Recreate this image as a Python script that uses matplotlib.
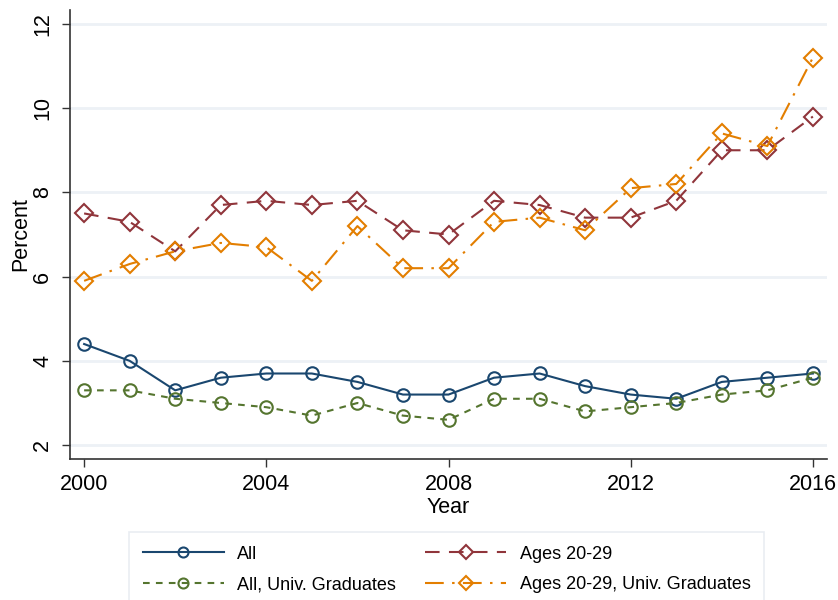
import numpy as np
import matplotlib
matplotlib.use("Agg")
import matplotlib.pyplot as plt

plt.rcParams['font.family'] = ['Liberation Sans', 'DejaVu Sans']

years = list(range(2000, 2017))
all_rate = [4.4, 4.0, 3.3, 3.6, 3.7, 3.7, 3.5, 3.2, 3.2, 3.6, 3.7, 3.4, 3.2, 3.1, 3.5, 3.6, 3.7]
ages_2029 = [7.5, 7.3, 6.6, 7.7, 7.8, 7.7, 7.8, 7.1, 7.0, 7.8, 7.7, 7.4, 7.4, 7.8, 9.0, 9.0, 9.8]
all_univ = [3.3, 3.3, 3.1, 3.0, 2.9, 2.7, 3.0, 2.7, 2.6, 3.1, 3.1, 2.8, 2.9, 3.0, 3.2, 3.3, 3.6]
ages_univ = [5.9, 6.3, 6.6, 6.8, 6.7, 5.9, 7.2, 6.2, 6.2, 7.3, 7.4, 7.1, 8.1, 8.2, 9.4, 9.1, 11.2]

xticks = [2000, 2004, 2008, 2012, 2016]
yticks = [2, 4, 6, 8, 10, 12]

fig = plt.figure(figsize=(8.38, 6.0), dpi=100)
ax = fig.add_axes([70/838, 1-459/600, (827-70)/838, (459-10)/600])

lw = 1.5
mew = 1.5
h1, = ax.plot(years, all_rate, color='#1a476f', lw=lw, ls='-',
              marker='o', ms=9, mfc='none', mew=mew, label='All')
h2, = ax.plot(years, ages_2029, color='#90353b', lw=lw, ls=(0, (7, 4.5)),
              marker='D', ms=9, mfc='none', mew=mew, label='Ages 20-29')
h3, = ax.plot(years, all_univ, color='#55752f', lw=lw, ls=(0, (3.2, 3)),
              marker='o', ms=9, mfc='none', mew=mew, label='All, Univ. Graduates')
h4, = ax.plot(years, ages_univ, color='#e37e00', lw=lw, ls=(0, (9, 4, 1.2, 4)),
              marker='D', ms=9, mfc='none', mew=mew, label='Ages 20-29, Univ. Graduates')

ax.set_xlim(1999.69, 2016.31)
ax.set_ylim(1.67, 12.33)
ax.set_xticks(xticks)
ax.set_yticks(yticks)
ax.set_yticklabels([str(v) for v in yticks], rotation=90, va='center')
ax.tick_params(axis='both', labelsize=15.5, length=6, width=1, color='#333333')
ax.tick_params(axis='x', pad=5)
ax.tick_params(axis='y', pad=6)
ax.grid(axis='y', color='#edf1f6', lw=2)
ax.set_axisbelow(True)
for s in ['top', 'right']:
    ax.spines[s].set_visible(False)
for s in ['left', 'bottom']:
    ax.spines[s].set_color('#333333')
    ax.spines[s].set_linewidth(1.2)

ax.set_xlabel('Year', fontsize=15.5, labelpad=1)
ax.set_ylabel('Percent', fontsize=15.5, labelpad=1)

leg = fig.legend(handles=[h1, h3, h2, h4], ncol=2, loc='upper left',
                 bbox_to_anchor=(129/838, 1-532/600), fontsize=13,
                 handlelength=4.5, handletextpad=0.75, columnspacing=1.6,
                 borderpad=0.75, labelspacing=0.75, fancybox=False,
                 markerscale=0.8, frameon=True, borderaxespad=0)
leg.get_frame().set_edgecolor('#e4e9ef')
leg.get_frame().set_linewidth(1.2)

fig.savefig('out.png', dpi=100)
